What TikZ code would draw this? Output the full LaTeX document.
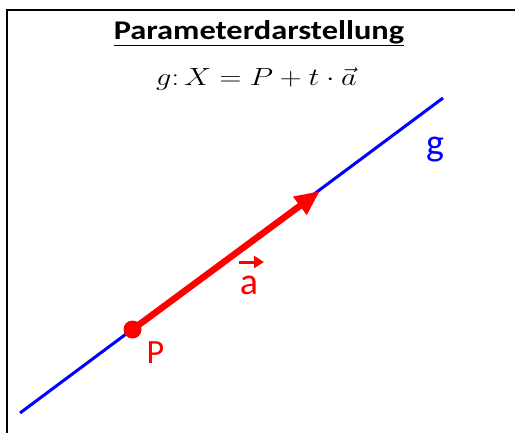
\documentclass[tikz,border=0pt]{standalone}
\usepackage{fontspec}
\setmainfont{Carlito}
\usetikzlibrary{arrows.meta}
\begin{document}
\begin{tikzpicture}[x=1pt, y=-1pt,
  gline/.style={blue, line width=3pt},
  avec/.style={red, line width=6.5pt, -{Triangle[length=25pt,width=21pt]}},
  lbl/.style={font=\fontsize{38}{42}\selectfont, inner sep=0pt, anchor=base}]
\useasboundingbox (0,0) rectangle (515,432);
\clip (0,0) rectangle (515,432);
% frame (only top and left edge visible)
\draw[line width=2pt] (7,440) -- (7,10) -- (530,10);
% heading
\node[anchor=base, inner sep=0pt, xscale=1.2, font=\bfseries\fontsize{27}{32}\selectfont] (title) at (259,39) {\underline{Parameterdarstellung}};
\node[anchor=base, inner sep=0pt, xscale=1.22, font=\fontsize{31}{36}\selectfont] (eq) at (256.5,85) {$g{:}\,X = P + t\cdot\vec{a}$};
% line g
\coordinate (g1) at (20,413);
\coordinate (g2) at (443,98);
\draw[gline] (g1) -- (g2);
\node[lbl, blue] (glab) at (435,155) {g};
% point P and direction vector
\coordinate (tip) at (320,191);
\node[circle, fill=red, minimum size=18pt, inner sep=0pt] (P) at (132.5,329.5) {};
\draw[avec] (P.center) -- (tip);
\node[lbl, red, font=\fontsize{34}{40}\selectfont] (plab) at (155.5,363) {P};
\node[lbl, red] (alab) at (249,294) {a};
\coordinate (va1) at (239,262);
\coordinate (va2) at (264,262);
\draw[red, line width=3pt, -{Triangle[length=10pt,width=12pt]}] (va1) -- (va2);
\end{tikzpicture}
\end{document}
